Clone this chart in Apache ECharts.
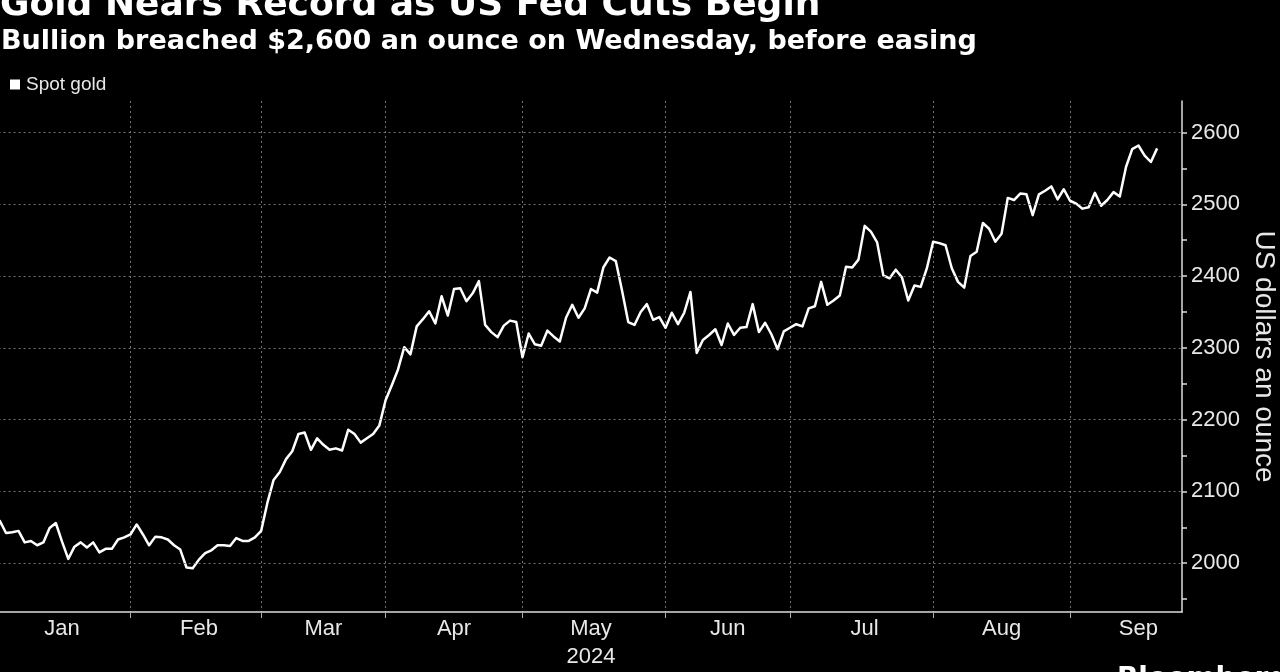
<!DOCTYPE html>
<html>
<head>
<meta charset="utf-8">
<script src="https://cdn.jsdelivr.net/npm/echarts@6/dist/echarts.min.js"></script>
<style>
html,body{margin:0;padding:0;background:#000;}
#chart{width:1280px;height:672px;}
</style>
</head>
<body>
<div id="chart"></div>
<script>
// ---------- texts ----------
const titleText = 'Gold Nears Record as US Fed Cuts Begin';
const subtitleText = 'Bullion breached $2,600 an ounce on Wednesday, before easing';
const seriesName = 'Spot gold';
const yAxisName = 'US dollars an ounce';
const sourceText = 'Bloomberg';
const yearLabel = '2024';

// ---------- categories (trading days) ----------
const monthNames = ['Jan','Feb','Mar','Apr','May','Jun','Jul','Aug','Sep'];
const firstDay = '2024-01-01';
const lastAxisDay = '2024-09-25';
const closedDays = ['2024-03-29'];
// days where the month tick labels sit
const labelDays = ['2024-01-16','2024-02-15','2024-03-14','2024-04-15','2024-05-15','2024-06-14','2024-07-16','2024-08-15','2024-09-16'];

// ---------- spot gold, USD/oz, one value per trading day ----------
const jan = [2062,2059,2042,2043,2045,2029,2031,2025,2029,2049,2056,2030,2006,2023,2029,2022,2029,2015,2020,2020,2033,2036,2040];
const feb = [2054,2040,2025,2037,2036,2033,2025,2019,1994,1993,2005,2014,2018,2025,2025,2024,2035,2031,2031,2036,2045];
const mar = [2084,2116,2127,2145,2156,2180,2182,2158,2174,2165,2158,2160,2157,2186,2180,2168,2174,2180,2192,2227];
const apr = [2248,2270,2301,2291,2330,2340,2351,2334,2372,2345,2382,2383,2365,2376,2393,2332,2322,2315,2331,2338,2336,2287];
const may = [2320,2305,2303,2324,2316,2309,2342,2360,2342,2355,2382,2377,2412,2426,2421,2380,2336,2332,2350,2361,2339,2343,2328];
const jun = [2349,2333,2349,2378,2293,2311,2318,2326,2304,2334,2318,2328,2329,2361,2322,2335,2319,2298,2323,2328];
const jul = [2333,2330,2355,2358,2392,2360,2366,2373,2413,2412,2423,2470,2462,2447,2401,2397,2409,2398,2366,2387,2385,2411,2448];
const aug = [2446,2443,2411,2392,2384,2428,2434,2474,2466,2448,2459,2509,2506,2515,2514,2485,2514,2519,2525,2507,2521,2505];
const sep = [2501,2494,2496,2516,2498,2506,2517,2511,2552,2577,2582,2568,2559,2578];

// ---------- y axis ----------
const yMin = 1932;
const yMax = 2644;
const yLabelValues = [2000,2100,2200,2300,2400,2500,2600];
const yTickValues = [1950,2000,2050,2100,2150,2200,2250,2300,2350,2400,2450,2500,2550,2600];

// ---------- build categories ----------
function iso(d){return d.toISOString().slice(0,10);}
const dates = [];
for (let d = new Date(firstDay + 'T00:00:00Z'); iso(d) <= lastAxisDay; d.setUTCDate(d.getUTCDate()+1)) {
  const wd = d.getUTCDay();
  const s = iso(d);
  if (wd === 0 || wd === 6 || closedDays.includes(s)) continue;
  dates.push(s);
}
const values = [].concat(jan, feb, mar, apr, may, jun, jul, aug, sep);
while (values.length < dates.length) values.push(null);

const monthEnd = new Set();
for (let i = 0; i < dates.length - 1; i++) {
  if (dates[i].slice(5,7) !== dates[i+1].slice(5,7)) monthEnd.add(i);
}
const labelSet = new Set(labelDays);

const textCol = '#e8e8e8';
const gridCol = '#737373';
const font = 'Liberation Sans, Arial, sans-serif';
const headFont = 'DejaVu Sans, sans-serif';

const chart = echarts.init(document.getElementById('chart'), null, {renderer:'canvas'});
chart.setOption({
  backgroundColor: '#000',
  animation: false,
  textStyle: {fontFamily: font},
  title: [
    {text: titleText, left: 0, top: -12, padding: 0,
     textStyle: {color: '#fff', fontSize: 36, fontWeight: 'bold', fontFamily: headFont}},
    {text: subtitleText, left: 1, top: 28, padding: 0,
     textStyle: {color: '#fff', fontSize: 27, fontWeight: 'bold', fontFamily: headFont}}
  ],
  legend: {
    data: [seriesName], left: 10, top: 75, padding: 0,
    icon: 'rect', itemWidth: 10, itemHeight: 10, itemGap: 10,
    textStyle: {color: textCol, fontSize: 19, fontFamily: font, padding: [0,0,0,1]}
  },
  grid: {left: -6.4, right: 98, top: 101, bottom: 60, containLabel: false, outerBoundsMode: 'none'},
  xAxis: {
    type: 'category', data: dates, boundaryGap: false,
    axisLine: {show: true, lineStyle: {color: '#dcdcdc', width: 1.5}},
    axisTick: {show: true, interval: (i) => monthEnd.has(i), length: 6, lineStyle: {color: '#aaa', width: 1}},
    axisLabel: {
      interval: (i, v) => labelSet.has(v),
      formatter: (v) => {
        const m = monthNames[parseInt(v.slice(5,7),10)-1];
        return m === 'May' ? m + '\n' + yearLabel : m;
      },
      color: textCol, fontSize: 22, margin: 3, lineHeight: 28, fontFamily: font
    },
    splitLine: {show: true, interval: (i) => monthEnd.has(i), lineStyle: {color: gridCol, type: [2,3], width: 1}}
  },
  yAxis: {
    type: 'value', position: 'right', min: yMin, max: yMax,
    axisLine: {show: true, lineStyle: {color: '#dcdcdc', width: 1.5}},
    axisTick: {show: true, customValues: yTickValues, length: 5, lineStyle: {color: '#dcdcdc', width: 1.5}},
    axisLabel: {customValues: yLabelValues, formatter: (v) => String(v), color: textCol, fontSize: 22, margin: 9, fontFamily: font},
    splitLine: {show: false},
    name: yAxisName, nameLocation: 'middle', nameRotate: -90, nameGap: 68, nameMoveOverlap: false,
    nameTextStyle: {color: textCol, fontSize: 28, fontFamily: font}
  },
  series: [
    {
      name: 'grid', type: 'line', data: [], silent: true,
      markLine: {
        silent: true, symbol: 'none', label: {show: false},
        lineStyle: {color: gridCol, type: [2,3], width: 1},
        data: yLabelValues.map(v => ({yAxis: v}))
      }
    },
    {
      name: seriesName, type: 'line', data: values, showSymbol: false, connectNulls: false,
      lineStyle: {color: '#fff', width: 2.5, join: 'round'},
      itemStyle: {color: '#fff'}
    }
  ],
  graphic: [
    {type: 'text', left: 1117, top: 666, style: {text: sourceText, fill: '#fff', font: 'bold 28px ' + headFont}}
  ]
});
</script>
</body>
</html>
